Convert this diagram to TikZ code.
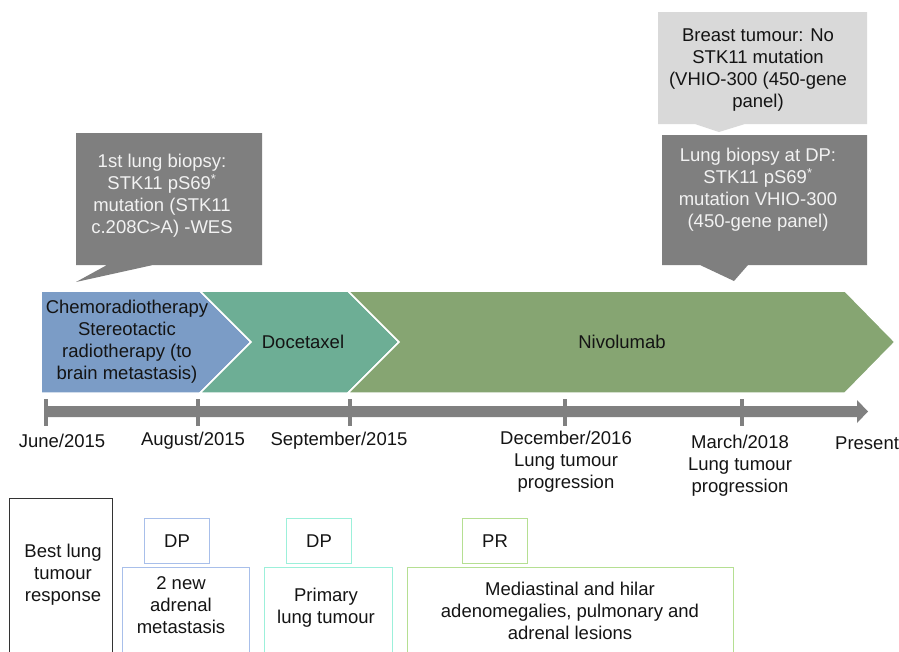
\documentclass[tikz,border=0pt]{standalone}
\usepackage{fontspec}
\setmainfont{Liberation Sans}
\definecolor{chblue}{HTML}{7B9CC6}
\definecolor{chteal}{HTML}{6DAE95}
\definecolor{chgreen}{HTML}{86A572}
\definecolor{tlgray}{HTML}{808080}
\definecolor{darkcall}{HTML}{7F7F7F}
\definecolor{lightcall}{HTML}{D9D9D9}
\definecolor{calltext}{HTML}{F2F2F2}
\definecolor{boxblue}{HTML}{A8BFEA}
\definecolor{boxcyan}{HTML}{9CF0DA}
\definecolor{boxgreen}{HTML}{B5DF92}
\begin{document}
\begin{tikzpicture}[x=1pt,y=-1pt,
  lbl/.style={font=\fontsize{18.5}{22}\selectfont, align=center, inner sep=0pt, text=black!92},
  calllbl/.style={lbl, text=calltext},
  chevron/.style={draw=white, line width=1.5pt},
  tick/.style={draw=tlgray, line width=4pt},
  respbox/.style={draw=#1, line width=1.1pt, inner sep=0pt, anchor=north west}
]
\useasboundingbox (0,0) rectangle (899,651);
\clip (0,0) rectangle (899,651);

% callouts
\fill[darkcall] (76,133) -- (262,133) -- (262,265) -- (153,265) -- (76,282) -- (107,265) -- (76,265) -- cycle;
\node[calllbl] (c1) at (162,196) {1st lung biopsy:\\STK11 pS69\textsuperscript{*}\\mutation (STK11\\c.208C>A) -WES};

\fill[lightcall] (658,12) -- (867,12) -- (867,124) -- (745,124) -- (719,132) -- (695,124) -- (658,124) -- cycle;
\node[lbl] (c2) at (758,70) {Breast tumour: No\\STK11 mutation\\(VHIO-300 (450-gene\\panel)};

\fill[darkcall] (662,135) -- (867,135) -- (867,265) -- (748,265) -- (734,281) -- (700,265) -- (662,265) -- cycle;
\node[calllbl] (c3) at (758,190) {Lung biopsy at DP:\\STK11 pS69\textsuperscript{*}\\mutation VHIO-300\\(450-gene panel)};

% chevrons
\fill[chblue, chevron] (41,291) -- (200,291) -- (251,342) -- (200,393) -- (41,393) -- cycle;
\fill[chteal, chevron] (200,291) -- (348,291) -- (399,342) -- (348,393) -- (200,393) -- (251,342) -- cycle;
\fill[chgreen, chevron] (348,291) -- (845,291) -- (895,342) -- (845,393) -- (348,393) -- (399,342) -- cycle;
\node[lbl] (t1) at (127,341.5) {Chemoradiotherapy\\Stereotactic\\radiotherapy (to\\brain metastasis)};
\node[lbl] (t2) at (303,342) {Docetaxel};
\node[lbl] (t3) at (622,342) {Nivolumab};

% timeline
\fill[tlgray] (44,406) -- (857,406) -- (857,400) -- (868,411.5) -- (857,423) -- (857,417) -- (44,417) -- cycle;
\foreach \x in {46,198,350,565,742} \draw[tick] (\x,399) -- (\x,426);

\node[lbl] (d1) at (62,441) {June/2015};
\node[lbl] (d2) at (193,441) {August/2015};
\node[lbl] (d3) at (339,441) {September/2015};
\node[lbl] (d4) at (566,462) {December/2016\\Lung tumour\\progression};
\node[lbl] (d5) at (740,466) {March/2018\\Lung tumour\\progression};
\node[lbl, anchor=west] (d6) at (835,443) {Present};

% response
\node[respbox=black!80, minimum width=103, minimum height=170] (best) at (9,498) {};
\node[lbl] (bestt) at (63,574.5) {Best lung\\tumour\\response};

\node[respbox=boxblue, minimum width=65, minimum height=45] (dp1) at (144,518) {};
\node[lbl] at (dp1.center) {DP};
\node[respbox=boxcyan, minimum width=65, minimum height=45] (dp2) at (286,518) {};
\node[lbl] at (dp2.center) {DP};
\node[respbox=boxgreen, minimum width=65, minimum height=45] (pr) at (462,518) {};
\node[lbl] at (pr.center) {PR};

\node[respbox=boxblue, minimum width=127, minimum height=100] (r1) at (122,567) {};
\node[lbl] (r1t) at (181,605.5) {2 new\\adrenal\\metastasis};
\node[respbox=boxcyan, minimum width=128, minimum height=100] (r2) at (264,567) {};
\node[lbl] (r2t) at (326,608) {Primary\\lung tumour};
\node[respbox=boxgreen, minimum width=326, minimum height=100] (r3) at (407,567) {};
\node[lbl] (r3t) at (570,610.5) {Mediastinal and hilar\\adenomegalies, pulmonary and\\adrenal lesions};
\end{tikzpicture}
\end{document}
